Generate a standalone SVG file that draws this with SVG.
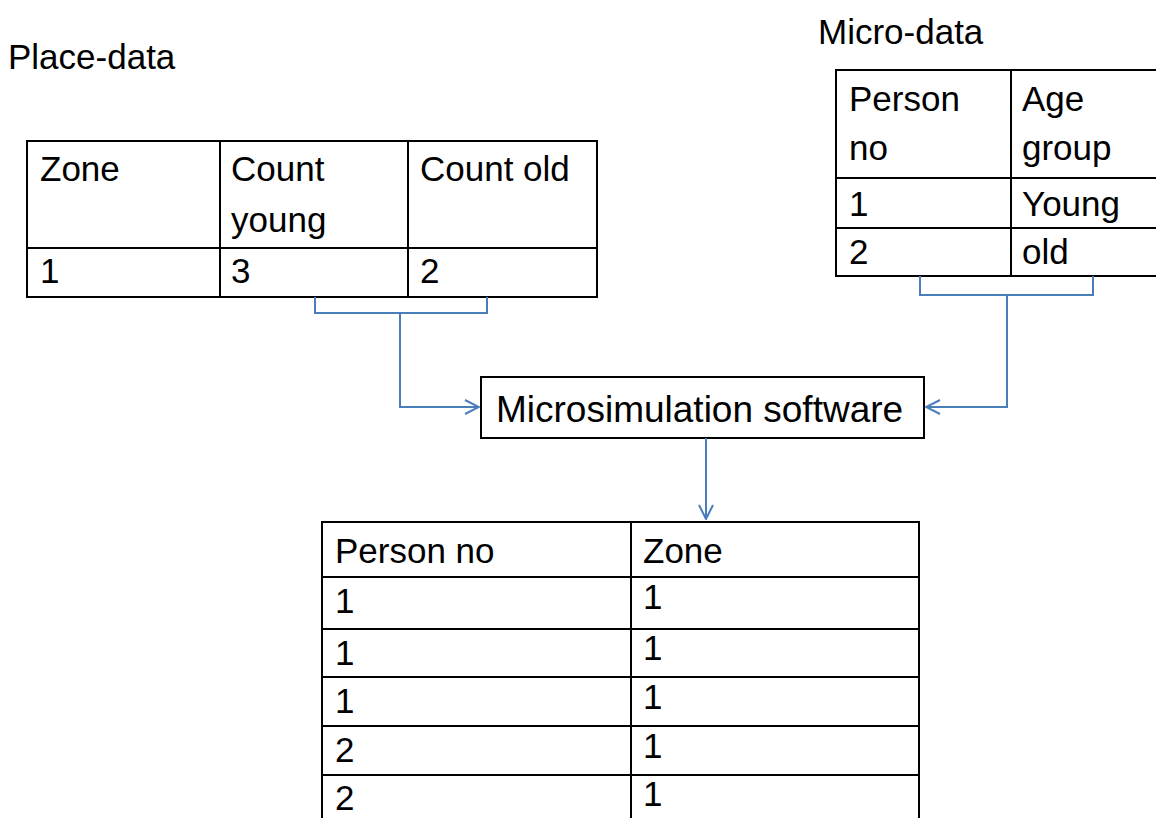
<svg xmlns="http://www.w3.org/2000/svg" width="1156" height="818" viewBox="0 0 1156 818">
<defs>
<style>
text{font-family:"Liberation Sans",Arial,sans-serif;font-size:35px;fill:#000}
.big{font-size:37px}
.cell{fill:#fff;stroke:#000;stroke-width:2}
.grid{stroke:#000;stroke-width:2;fill:none}
.conn{stroke:#4a7ebb;stroke-width:2;fill:none}
</style>
<marker id="arr" viewBox="0 0 16 16" refX="15" refY="8" markerWidth="16" markerHeight="16" markerUnits="userSpaceOnUse" orient="auto">
<path d="M1,1 L15,8 L1,15" fill="none" stroke="#4a7ebb" stroke-width="2"/>
</marker>
</defs>
<rect width="1156" height="818" fill="#fff"/>
<text id="title-place" x="8" y="69">Place-data</text>
<text id="title-micro" x="818" y="44">Micro-data</text>
<g id="place-data">
<rect class="cell" x="27" y="141" width="570" height="156"/>
<path class="grid" d="M220,141V297M408,141V297M27,248H597"/>
<text x="40" y="181">Zone</text>
<text x="231" y="181">Count</text>
<text x="231" y="232">young</text>
<text x="420" y="181">Count old</text>
<text x="40" y="283">1</text>
<text x="231" y="283">3</text>
<text x="420" y="283">2</text>
</g>
<g id="micro-data">
<rect class="cell" x="836" y="70" width="324" height="206"/>
<path class="grid" d="M1011,70V276M836,178H1160M836,228H1160"/>
<text x="849" y="111">Person</text>
<text x="849" y="160">no</text>
<text x="1022" y="111">Age</text>
<text x="1022" y="160">group</text>
<text x="849" y="216">1</text>
<text x="1022" y="216">Young</text>
<text x="849" y="264">2</text>
<text x="1022" y="264">old</text>
</g>
<g id="software">
<rect class="cell" x="481" y="377" width="443" height="61"/>
<text class="big" x="496" y="422">Microsimulation software</text>
</g>
<g id="result">
<rect class="cell" x="322" y="522" width="597" height="310"/>
<path class="grid" d="M631,522V832M322,577H919M322,629H919M322,677H919M322,726H919M322,775H919"/>
<text x="335" y="563">Person no</text>
<text x="643" y="563">Zone</text>
<text x="335" y="613">1</text><text x="643" y="609">1</text>
<text x="335" y="665">1</text><text x="643" y="660">1</text>
<text x="335" y="713">1</text><text x="643" y="709">1</text>
<text x="335" y="762">2</text><text x="643" y="758">1</text>
<text x="335" y="810">2</text><text x="643" y="806">1</text>
</g>
<g id="connectors">
<path class="conn" d="M315,297V313H487V297"/>
<path class="conn" d="M400,313V407H479" marker-end="url(#arr)"/>
<path class="conn" d="M920,276V295H1093V276"/>
<path class="conn" d="M1007,295V407H926" marker-end="url(#arr)"/>
<path class="conn" d="M706,438V519" marker-end="url(#arr)"/>
</g>
</svg>
